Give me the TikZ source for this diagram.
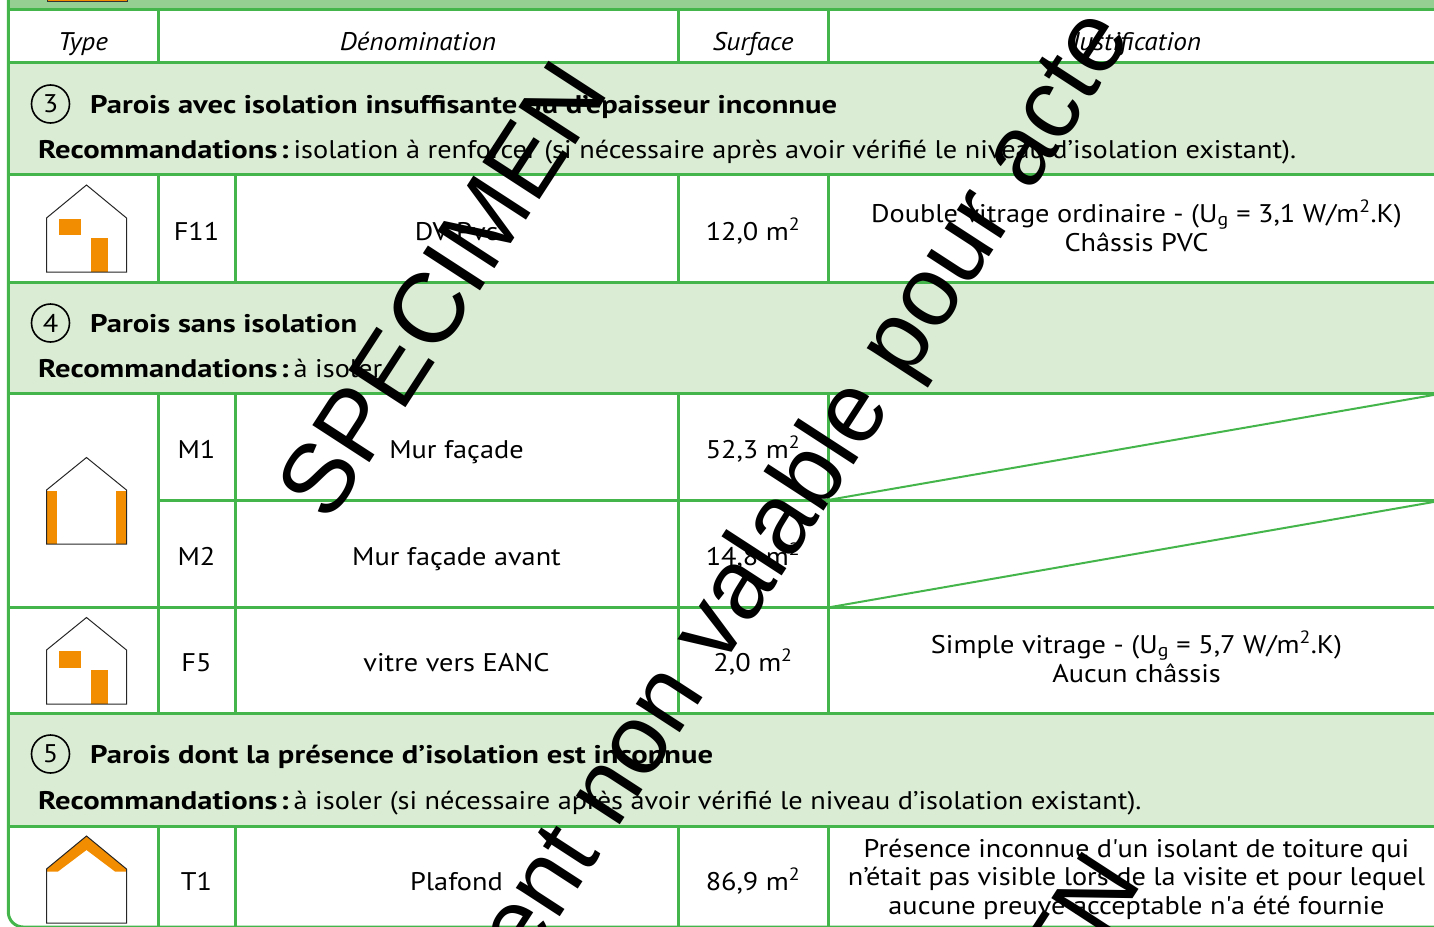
\documentclass[tikz,border=0pt]{standalone}
\usepackage{fontspec}
\setmainfont{PT Sans}[UprightFeatures={FakeStretch=1.11}, BoldFeatures={FakeStretch=1.2}, ItalicFeatures={FakeStretch=1.07}]
\newfontfamily\wmfont{Liberation Sans}
\definecolor{lgreen}{RGB}{68,181,75}
\definecolor{bandgreen}{RGB}{218,236,212}
\definecolor{topgreen}{RGB}{150,207,146}
\definecolor{orng}{RGB}{242,140,0}
\newcommand{\recolabel}{\textbf{Recommandations\kern3pt:}\kern5pt}
\tikzset{
  gridline/.style={draw=lgreen, line width=3pt},
  diagline/.style={draw=lgreen, line width=2pt},
  txt/.style={anchor=base, inner sep=0pt, font=\fontsize{25.5}{28.5}\selectfont},
  txtw/.style={anchor=base west, inner sep=0pt, font=\fontsize{25.5}{28.5}\selectfont},
  hdr/.style={anchor=base, inner sep=0pt, font=\fontsize{25.5}{28.5}\selectfont\itshape},
  ttl/.style={anchor=base west, inner sep=0pt, font=\fontsize{25.5}{28.5}\selectfont\bfseries},
  numcirc/.style={circle, draw=black, line width=1.6pt, minimum size=38pt, inner sep=0pt, font=\fontsize{25.5}{28.5}\selectfont},
  houseline/.style={draw=black!85, line width=1pt},
  insul/.style={fill=orng},
  wm/.style={anchor=base west, inner sep=0pt, rotate=57, text=black, font=\wmfont\fontsize{99}{99}\selectfont}
}
\begin{document}
\begin{tikzpicture}[x=1pt,y=-1pt]
\useasboundingbox (0,0) rectangle (1434,926);
\clip (0,0) rectangle (1434,926);
% top band
\fill[topgreen] (8,-20) rectangle (1450,9.7);
\filldraw[fill=orng, draw=black!80, line width=0.8pt] (47,-10) rectangle (127,1.2);
% section bands
\fill[bandgreen] (8,62.5) rectangle (1450,174.5);
\fill[bandgreen] (8,282) rectangle (1450,393);
\fill[bandgreen] (8,713) rectangle (1450,826.5);
% horizontal lines
\foreach \yy in {9.7,62.5,174.5,282,393,607.5,713,826.5}
  \draw[gridline] (8.3,\yy) -- (1450,\yy);
\draw[gridline] (158,500) -- (1450,500);
% vertical lines
\foreach \xx in {158,678,828}
  \draw[gridline] (\xx,9.7) -- (\xx,62.5);
\foreach \xx in {158,235,678,828}{
  \draw[gridline] (\xx,174.5) -- (\xx,282);
  \draw[gridline] (\xx,393) -- (\xx,713);
  \draw[gridline] (\xx,826.5) -- (\xx,930);
}
% outer frame
\draw[gridline, rounded corners=15pt] (1445,-30) -- (8.3,-30) -- (8.3,927) -- (1445,927);
% diagonals
\coordinate (d1a) at (828,500); \coordinate (d1b) at (1445,393);
\coordinate (d2a) at (828,607.5); \coordinate (d2b) at (1445,500);
\draw[diagline] (d1a) -- (d1b);
\draw[diagline] (d2a) -- (d2b);
% header
\node[hdr] (hType) at (83,50) {Type};
\node[hdr] (hDen) at (418,50) {Dénomination};
\node[hdr] (hSurf) at (753,50) {Surface};
\node[hdr] (hJust) at (1136.5,50) {Justification};
% section 3
\node[numcirc] (c3) at (50.5,104) {3};
\node[ttl] (t3) at (90,113) {Parois avec isolation insuffisante ou d’épaisseur inconnue};
\node[txtw] (r3) at (38,158) {\recolabel isolation à renforcer (si nécessaire après avoir vérifié le niveau d’isolation existant).};
% F11
\node[txt] (idF11) at (196.5,240) {F11};
\node[txt] (dF11) at (456.5,240) {DV Pvc};
\node[txt] (sF11) at (753,240) {12,0 m\textsuperscript{2}};
\node[txt] (jF11a) at (1136.5,222) {Double vitrage ordinaire - (U\textsubscript{g} = 3,1 W/m\textsuperscript{2}.K)};
\node[txt] (jF11b) at (1136.5,251) {Châssis PVC};
% section 4
\node[numcirc] (c4) at (50.5,323) {4};
\node[ttl] (t4) at (90,332) {Parois sans isolation};
\node[txtw] (r4) at (38,377) {\recolabel à isoler.};
% M1 M2 F5
\node[txt] (idM1) at (196.5,458) {M1};
\node[txt] (dM1) at (456.5,458) {Mur façade};
\node[txt] (sM1) at (753,458) {52,3 m\textsuperscript{2}};
\node[txt] (idM2) at (196.5,565) {M2};
\node[txt] (dM2) at (456.5,565) {Mur façade avant};
\node[txt] (sM2) at (753,565) {14,8 m\textsuperscript{2}};
\node[txt] (idF5) at (196.5,671) {F5};
\node[txt] (dF5) at (456.5,671) {vitre vers EANC};
\node[txt] (sF5) at (753,671) {2,0 m\textsuperscript{2}};
\node[txt] (jF5a) at (1136.5,653) {Simple vitrage - (U\textsubscript{g} = 5,7 W/m\textsuperscript{2}.K)};
\node[txt] (jF5b) at (1136.5,682) {Aucun châssis};
% section 5
\node[numcirc] (c5) at (50.5,754) {5};
\node[ttl] (t5) at (90,763) {Parois dont la présence d’isolation est inconnue};
\node[txtw] (r5) at (38,809) {\recolabel à isoler (si nécessaire après avoir vérifié le niveau d’isolation existant).};
% T1
\node[txt] (idT1) at (196.5,890) {T1};
\node[txt] (dT1) at (456.5,890) {Plafond};
\node[txt] (sT1) at (753,890) {86,9 m\textsuperscript{2}};
\node[txt] (jT1a) at (1136.5,857) {Présence inconnue d\textquotesingle un isolant de toiture qui};
\node[txt] (jT1b) at (1136.5,885.5) {n’était pas visible lors de la visite et pour lequel};
\node[txt] (jT1c) at (1136.5,914) {aucune preuve acceptable n\textquotesingle a été fournie};
% houses
% F11
\fill[white] (46.5,218) -- (86.5,185) -- (126.5,218) -- (126.5,272) -- (46.5,272) -- cycle;
\fill[insul] (59,218.5) rectangle (81,235);
\fill[insul] (91,238) rectangle (108,272);
\draw[houseline] (46.5,218) -- (86.5,185) -- (126.5,218) -- (126.5,272) -- (46.5,272) -- cycle;
% M
\fill[insul] (46.5,490.5) rectangle (57,544);
\fill[insul] (115.5,490.5) rectangle (126.5,544);
\draw[houseline] (46.5,490) -- (86.5,457.5) -- (126.5,490) -- (126.5,544) -- (46.5,544) -- cycle;
% F5
\fill[insul] (59,651) rectangle (81,668);
\fill[insul] (91,670) rectangle (108,704);
\draw[houseline] (46.5,650) -- (86.5,617.5) -- (126.5,650) -- (126.5,704) -- (46.5,704) -- cycle;
% T1
\fill[insul] (46.5,871.5) -- (46.5,869) -- (86.5,836) -- (126.5,869) -- (126.5,871.5) -- (115,871.5) -- (86.5,850) -- (58,871.5) -- cycle;
\draw[houseline] (46.5,869) -- (86.5,836) -- (126.5,869) -- (126.5,923) -- (46.5,923) -- cycle;
% watermarks
\node[wm] (wm1) at (329,525) {SPECIMEN};
\node[wm] (wm2) at (356,1232) {Document non valable pour acte};
\node[wm] (wm3) at (862,1316) {SPECIMEN};
\end{tikzpicture}
\end{document}
